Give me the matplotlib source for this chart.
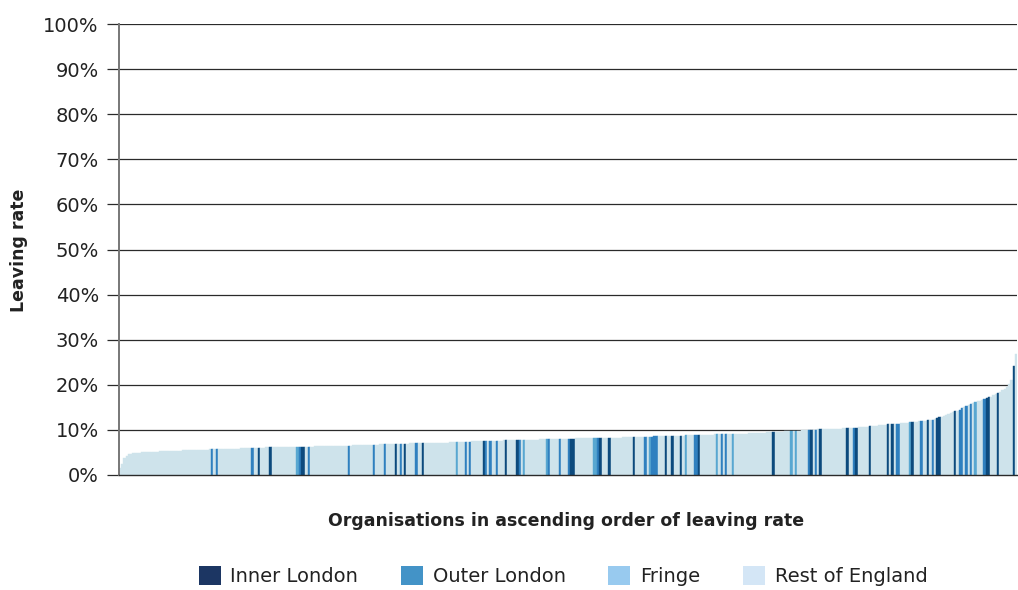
import matplotlib
matplotlib.use("Agg")
import matplotlib.pyplot as plt
from matplotlib.patches import Patch

# leaving rate (%) per organisation, already sorted ascending
leaving_rate = [
    1.5, 2.4, 3.8, 4.3, 4.6, 4.7, 4.8, 4.8, 4.9, 4.9, 5.0, 5.0, 5.1, 5.1, 5.2,
    5.2, 5.2, 5.2, 5.3, 5.3, 5.3, 5.3, 5.3, 5.4, 5.4, 5.4, 5.4, 5.4, 5.5, 5.5,
    5.5, 5.5, 5.5, 5.5, 5.6, 5.6, 5.6,
    5.6, 5.6, 5.6, 5.7, 5.7, 5.7, 5.7, 5.7, 5.7, 5.7, 5.8, 5.8, 5.8, 5.8, 5.8,
    5.8, 5.8, 5.9, 5.9, 5.9, 5.9, 5.9,
    5.9, 6.0, 6.0, 6.0, 6.0, 6.0, 6.1, 6.1, 6.1,
    6.1, 6.1, 6.1, 6.2, 6.2, 6.2, 6.2, 6.2, 6.2, 6.2, 6.2, 6.3, 6.3, 6.3, 6.3,
    6.3, 6.3, 6.3, 6.3, 6.4, 6.4, 6.4, 6.4, 6.4, 6.4, 6.4, 6.4, 6.4, 6.5, 6.5,
    6.5, 6.5, 6.5, 6.5, 6.5, 6.5,
    6.6, 6.6, 6.6, 6.6, 6.6, 6.6, 6.7, 6.7, 6.7, 6.7, 6.7, 6.7, 6.8, 6.8, 6.8,
    6.8, 6.8, 6.8, 6.9, 6.9, 6.9, 6.9, 6.9, 6.9, 6.9, 7.0, 7.0, 7.0, 7.0, 7.0,
    7.0,
    7.0, 7.0, 7.1, 7.1, 7.1, 7.1, 7.1, 7.2, 7.2, 7.2, 7.2, 7.2, 7.3, 7.3, 7.3,
    7.3, 7.3, 7.4, 7.4, 7.4, 7.4, 7.4, 7.5, 7.5, 7.5, 7.5, 7.5, 7.5, 7.6, 7.6,
    7.6,
    7.6, 7.6, 7.6, 7.6, 7.6, 7.7, 7.7, 7.7, 7.7, 7.7, 7.7, 7.7, 7.7, 7.8, 7.8,
    7.8, 7.8, 7.8, 7.8, 7.8, 7.8, 7.9, 7.9, 7.9, 7.9, 7.9, 7.9, 7.9, 7.9, 8.0,
    8.0, 8.0, 8.0, 8.0, 8.0,
    8.0, 8.0, 8.1, 8.1, 8.1, 8.1, 8.1, 8.1, 8.1, 8.2, 8.2, 8.2, 8.2, 8.2, 8.2,
    8.2, 8.3, 8.3, 8.3, 8.3, 8.3, 8.3, 8.3, 8.4, 8.4, 8.4, 8.4, 8.4, 8.4, 8.5,
    8.5, 8.5,
    8.5, 8.5, 8.5, 8.5, 8.5, 8.6, 8.6, 8.6, 8.6, 8.6, 8.6, 8.6, 8.7, 8.7, 8.7,
    8.7, 8.7, 8.7, 8.7, 8.8, 8.8, 8.8, 8.8, 8.8, 8.8, 8.8, 8.9, 8.9, 8.9, 8.9,
    8.9, 8.9, 9.0, 9.0, 9.0,
    9.0, 9.0, 9.0, 9.1, 9.1, 9.1, 9.1, 9.1, 9.2, 9.2, 9.2, 9.2, 9.3, 9.3, 9.3,
    9.3, 9.4, 9.4, 9.4, 9.4, 9.5, 9.5, 9.5, 9.5, 9.6, 9.6, 9.6,
    9.6, 9.7, 9.7, 9.7, 9.7, 9.8, 9.8, 9.8, 9.8, 9.9, 9.9, 9.9, 10.0, 10.0,
    10.0, 10.0, 10.1, 10.1,
    10.1, 10.1, 10.2, 10.2, 10.2, 10.3, 10.3, 10.3, 10.3, 10.4, 10.4, 10.4,
    10.5, 10.5, 10.5, 10.5, 10.6, 10.6, 10.6, 10.7, 10.7, 10.8,
    10.8, 10.9, 10.9, 11.0, 11.0, 11.1, 11.1, 11.2, 11.2, 11.3, 11.3, 11.4,
    11.4, 11.5,
    11.5, 11.6, 11.6, 11.7, 11.7, 11.8, 11.8, 11.9, 11.9, 12.0, 12.0, 12.1, 12.2,
    12.3, 12.5, 12.6, 12.8, 12.9, 13.1, 13.3,
    13.5, 13.7, 13.9, 14.1, 14.3, 14.5, 14.8,
    15.0, 15.2, 15.5, 15.7, 15.9, 16.1,
    16.3, 16.5, 16.7, 16.9, 17.0, 17.2, 17.4,
    17.7, 18.0, 18.2, 18.5,
    18.8, 19.1, 19.5,
    20.2, 21.0, 24.2, 26.8,
]

# positions (in sorted order) of the London / fringe organisations
inner_london = [62, 67, 81, 82, 123, 127, 135, 162, 172, 177, 201, 202, 214,
                218, 229, 243, 246, 250, 258, 291, 308, 312, 324, 328, 334,
                342, 344, 353, 360, 364, 365, 372, 386, 387, 391, 398]
outer_london = [41, 43, 59, 80, 84, 102, 113, 118, 125, 132, 154, 156, 163,
                165, 168, 178, 191, 196, 200, 213, 234, 237, 238, 239, 256,
                257, 268, 270, 307, 310, 327, 346, 347, 357, 362, 374, 375,
                377, 379, 385]
fringe = [79, 150, 180, 190, 211, 212, 236, 252, 266, 273, 299, 301, 352, 381]

region_names = ["Inner London", "Outer London", "Fringe", "Rest of England"]
y_ticks = [0, 10, 20, 30, 40, 50, 60, 70, 80, 90, 100]

# bar colours and legend swatch colours (slightly different in the original)
bar_colors = {"Inner London": "#0c4a7d", "Outer London": "#2f80bf",
              "Fringe": "#58a7d1", "Rest of England": "#cee3eb"}
legend_colors = ["#1c3663", "#4393c7", "#98caef", "#d4e6f6"]

region = ["Rest of England"] * len(leaving_rate)
for i in inner_london:
    region[i] = "Inner London"
for i in outer_london:
    region[i] = "Outer London"
for i in fringe:
    region[i] = "Fringe"
colors = [bar_colors[r] for r in region]

W, H = 1018, 590
fig = plt.figure(figsize=(W / 100, H / 100), dpi=100)
ax = fig.add_axes([119 / W, 115 / H, 898 / W, 451 / H])

x = list(range(len(leaving_rate)))
ax.bar(x, leaving_rate, width=1.0, color=colors, edgecolor=colors,
       linewidth=0.3, zorder=2)

ax.set_xlim(-0.5, len(leaving_rate) - 0.5)
ax.set_ylim(0, 100)
ax.set_yticks(y_ticks)
ax.set_yticklabels([f"{v}%" for v in y_ticks], fontsize=14, color="#222222")
ax.set_xticks([])

ax.yaxis.grid(True, color="#2a2a2a", linewidth=0.9, zorder=0)
ax.set_axisbelow(True)
ax.tick_params(axis="y", length=8.5, width=0.9, color="#2a2a2a", pad=6)

for side in ["top", "right"]:
    ax.spines[side].set_visible(False)
ax.spines["left"].set_color("#777777")
ax.spines["left"].set_linewidth(1.4)
ax.spines["bottom"].set_color("#2a2a2a")
ax.spines["bottom"].set_linewidth(1.0)

fig.text(566 / W, 1 - 521 / H, "Organisations in ascending order of leaving rate",
         ha="center", va="center", fontsize=12.5, fontweight="bold",
         color="#222222")
fig.text(19 / W, 1 - 250 / H, "Leaving rate", ha="center", va="center",
         rotation=90, fontsize=12.5, fontweight="bold", color="#222222")

handles = [Patch(facecolor=c, edgecolor="none") for c in legend_colors]
fig.legend(handles, region_names, loc="center", ncol=4, frameon=False,
           bbox_to_anchor=(563 / W, 1 - 576 / H), fontsize=14,
           handlelength=1.13, handleheight=1.13, handletextpad=0.5,
           columnspacing=2.2, labelcolor="#222222")

fig.savefig("out.png", dpi=100)
